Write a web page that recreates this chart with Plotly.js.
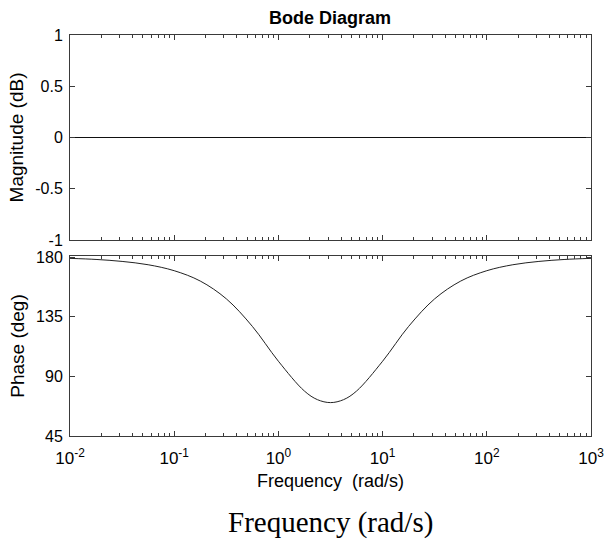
<!DOCTYPE html>
<html>
<head>
<meta charset="utf-8">
<script src="https://cdn.plot.ly/plotly-3.0.1.min.js"></script>
<style>html,body{margin:0;padding:0;background:#fff;}#chart{width:604px;height:540px;}</style>
</head>
<body>
<div id="chart"></div>
<script>
// Frequency points (rad/s) at quarter-decade steps
const frequency = [0.01, 0.01778, 0.03162, 0.05623, 0.1, 0.1778, 0.3162, 0.5623, 1, 1.778, 2.371, 3.162, 4.217, 5.623, 10, 17.78, 31.62, 56.23, 100, 177.8, 316.2, 562.3, 1000];
// Magnitude (dB) – flat line at 0 dB
const magnitude = [0, 0, 0, 0, 0, 0, 0, 0, 0, 0, 0, 0, 0, 0, 0, 0, 0, 0, 0, 0, 0, 0, 0];
// Phase (deg)
const phase = [179.0, 178.2, 176.7, 174.2, 169.7, 161.9, 148.5, 127.7, 101.4, 78.9, 72.4, 70.2, 72.4, 78.9, 101.4, 127.7, 148.5, 161.9, 169.7, 174.2, 176.7, 178.2, 179.0];

const magTicks = [-1, -0.5, 0, 0.5, 1];
const magTickText = ['-1', '-0.5', '0', '0.5', '1'];
const phaseTicks = [45, 90, 135, 180];
const phaseTickText = ['45', '90', '135', '180'];
const freqTicks = [0.01, 0.1, 1, 10, 100, 1000];
const freqTickText = ['10<sup>-2</sup>', '10<sup>-1</sup>', '10<sup>0</sup>', '10<sup>1</sup>', '10<sup>2</sup>', '10<sup>3</sup>'];

const minorVals = [];
for (let e = -2; e < 3; e++) { for (let m = 2; m <= 9; m++) { minorVals.push(m * Math.pow(10, e)); } }

const axisColor = '#3a3a3a';
const fontFam = '"Liberation Sans", Arial, Helvetica, sans-serif';

const traces = [
  { x: frequency, y: magnitude, xaxis: 'x', yaxis: 'y', mode: 'lines', line: { color: '#111', width: 1.2 }, hoverinfo: 'skip' },
  { x: frequency, y: phase, xaxis: 'x2', yaxis: 'y2', mode: 'lines', line: { color: '#222', width: 1, shape: 'spline', smoothing: 1 }, hoverinfo: 'skip' }
];

const xCommon = {
  type: 'log', range: [-2, 3], tickmode: 'array', tickvals: freqTicks,
  ticks: 'inside', ticklen: 5, tickcolor: axisColor, tickwidth: 1,
  showline: true, linecolor: axisColor, linewidth: 1, mirror: 'allticks',
  showgrid: false, zeroline: false,
  minor: { tickmode: 'array', tickvals: minorVals, ticks: 'inside', ticklen: 3, tickcolor: axisColor, tickwidth: 1, showgrid: false }
};

const layout = {
  width: 604, height: 540,
  margin: { l: 70, r: 13, t: 35, b: 104 },
  paper_bgcolor: '#fff', plot_bgcolor: '#fff',
  showlegend: false,
  font: { family: fontFam, color: '#000', size: 16 },
  title: { text: '<b>Bode Diagram</b>', font: { family: fontFam, size: 18, color: '#000' }, x: 0.5465, xanchor: 'center', y: 0.968, yanchor: 'middle' },
  xaxis: Object.assign({}, xCommon, { anchor: 'y', domain: [0, 1], showticklabels: false }),
  xaxis2: Object.assign({}, xCommon, { anchor: 'y2', domain: [0, 1], matches: 'x', ticktext: freqTickText, showticklabels: true, tickfont: { size: 17 }, ticklabelstandoff: 7, ticklabeloverflow: 'allow',
    title: { text: 'Frequency  (rad/s)', font: { size: 18 }, standoff: 6 } }),
  yaxis: {
    anchor: 'x', domain: [0.4888, 1], range: [-1, 1], tickmode: 'array', tickvals: magTicks, ticktext: magTickText,
    ticks: 'inside', ticklen: 5, tickcolor: axisColor, showline: true, linecolor: axisColor, mirror: 'allticks',
    showgrid: false, zeroline: false, tickfont: { size: 16 }, ticklabelstandoff: 3,
    title: { text: 'Magnitude (dB)', font: { size: 19 }, standoff: 6 }
  },
  yaxis2: {
    anchor: 'x2', domain: [0, 0.4489], range: [45, 180.8], tickmode: 'array', tickvals: phaseTicks, ticktext: phaseTickText,
    ticks: 'inside', ticklen: 5, tickcolor: axisColor, showline: true, linecolor: axisColor, mirror: 'allticks',
    showgrid: false, zeroline: false, tickfont: { size: 16 }, ticklabelstandoff: 3,
    title: { text: 'Phase (deg)', font: { size: 19 }, standoff: 6 }
  },
  annotations: [
    { text: 'Frequency (rad/s)', xref: 'paper', yref: 'paper', x: 0.5, y: -0.215, xanchor: 'center', yanchor: 'middle', showarrow: false,
      font: { family: '"Liberation Serif", "Times New Roman", serif', size: 29, color: '#000' } }
  ]
};

Plotly.newPlot('chart', traces, layout, { staticPlot: true, displayModeBar: false });
</script>
</body>
</html>
